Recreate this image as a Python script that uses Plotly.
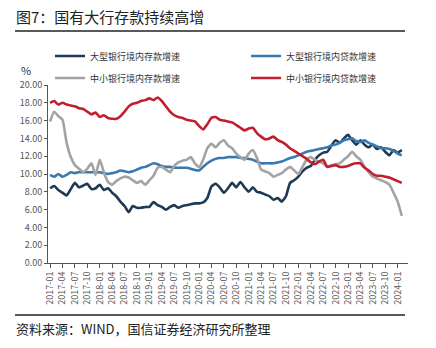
import plotly.graph_objects as go

# Monthly observations, 2017-01 .. 2024-02 (year-on-year growth, %)
months = [f"{y}-{m:02d}" for y in range(2017, 2025) for m in range(1, 13)][:86]

large_deposit = [8.4, 8.65, 8.2, 7.9, 7.6, 8.3, 9.0, 8.5, 8.7, 8.9, 8.3, 8.4,
                 8.8, 8.2, 8.4, 7.9, 7.5, 6.9, 6.4, 5.7, 6.4, 6.2, 6.2, 6.3,
                 6.3, 6.85, 6.5, 6.3, 6.0, 6.3, 6.5, 6.2, 6.4, 6.5, 6.6, 6.7,
                 6.7, 6.8, 7.3, 8.6, 8.9, 8.5, 7.9, 8.4, 9.0, 8.5, 9.1, 8.5,
                 8.0, 8.5, 8.0, 7.9, 7.7, 7.5, 7.1, 7.3, 6.9, 7.5, 9.0, 9.3,
                 9.7, 10.3, 10.7, 10.9, 11.6, 12.1, 12.4, 12.5, 13.2, 13.8, 13.5, 14.0,
                 14.4, 13.8, 13.3, 13.8, 13.3, 13.0, 13.3, 12.8, 13.0, 12.5, 12.1, 12.7,
                 12.4, 12.7]

large_loan = [9.9, 9.7, 10.0, 9.7, 9.9, 10.2, 10.1, 10.2, 10.2, 10.2, 10.2, 10.2,
              10.2, 10.1, 10.0, 10.1, 10.2, 10.4, 10.3, 10.2, 10.3, 10.5, 10.7, 10.8,
              11.0, 11.2, 11.1, 10.9, 10.8, 10.8, 10.7, 10.7, 10.7, 10.7, 10.6, 10.45,
              10.4, 10.8, 11.2, 11.5, 11.7, 11.8, 11.8, 11.9, 11.9, 11.9, 11.8, 11.8,
              11.7, 11.6, 11.4, 11.2, 11.2, 11.2, 11.2, 11.3, 11.4, 11.6, 11.8, 11.9,
              12.1, 12.3, 12.5, 12.6, 12.7, 12.8, 12.9, 13.0, 13.2, 13.3, 13.5, 13.8,
              13.9, 14.0, 13.7, 13.6, 13.8, 13.5, 13.3, 13.1, 12.9, 12.9, 12.8, 12.6,
              12.3, 12.1]

small_deposit = [15.9, 17.0, 16.5, 16.1, 13.5, 11.9, 11.0, 10.6, 10.2, 10.6, 11.2, 9.9,
                 11.6, 10.2, 9.1, 8.8, 9.2, 9.5, 9.7, 9.6, 9.3, 9.0, 9.2, 8.8,
                 9.3, 9.8, 10.7, 10.8, 10.5, 10.2, 10.9, 11.3, 11.5, 11.6, 11.9, 11.2,
                 10.8, 11.6, 12.9, 13.4, 13.0, 13.5, 13.8, 13.2, 12.9, 12.3, 11.9, 11.6,
                 12.3, 12.7, 11.8, 10.5, 10.3, 10.1, 9.7, 9.9, 10.1, 10.5, 10.8, 10.4,
                 10.0, 10.8, 11.6, 11.9, 11.6, 11.4, 11.2, 10.8, 11.0, 11.1, 11.2, 11.6,
                 12.0, 12.5, 12.0, 11.6, 10.8, 10.2, 9.7, 9.5, 9.3, 9.1, 8.8, 7.9,
                 6.9, 5.3]

small_loan = [18.0, 18.2, 17.8, 18.0, 17.8, 17.7, 17.6, 17.4, 17.3, 17.0, 16.7, 16.9,
              16.4, 16.6, 16.3, 16.2, 16.2, 16.5, 17.0, 17.6, 17.9, 18.0, 18.2, 18.3,
              18.5, 18.3, 18.6, 18.2, 17.6, 17.0, 16.6, 16.4, 16.3, 16.1, 16.0, 15.9,
              15.4, 15.0, 15.6, 16.3, 16.4, 16.1, 16.0, 15.9, 15.8, 15.5, 15.2, 14.9,
              15.1, 15.2, 14.6, 14.2, 13.9, 14.0, 14.2, 13.8, 13.6, 13.3, 12.9, 12.6,
              12.3, 12.0, 11.7, 11.3, 11.1, 11.4, 11.6, 10.8, 10.9, 11.0, 10.8, 10.8,
              10.9, 11.1, 11.2, 11.2, 10.7, 10.4, 10.0, 9.8, 9.8, 9.7, 9.6, 9.4,
              9.2, 9.0]

series_names = ["大型银行境内存款增速", "大型银行境内贷款增速",
                "中小银行境内存款增速", "中小银行境内贷款增速"]
series_values = [large_deposit, large_loan, small_deposit, small_loan]
series_colors = ["#1e3a55", "#3a78b0", "#a3a3a3", "#c01f2f"]

quarter_ticks = [m for m in months if m[-2:] in ("01", "04", "07", "10")]

# plot-area geometry in pixels (436 x 348 canvas)
L, R, T, B = 48, 408, 85, 263
W, H = 436, 348


def px(x):
    return (x - L) / (R - L)


def py(y):
    return (B - y) / (B - T)


cjk = "Noto Sans CJK SC"

# one legend box per entry, laid out as a 2 x 2 grid above the plot
legend_ids = ["legend", "legend2", "legend3", "legend4"]
legend_pos = [(50, 56), (246, 56), (50, 78), (246, 78)]

fig = go.Figure()
for name, vals, col, lid in zip(series_names, series_values, series_colors, legend_ids):
    fig.add_trace(go.Scatter(
        x=months, y=vals, name=name, mode="lines", legend=lid,
        line=dict(color=col, width=2.6, shape="spline", smoothing=0.5),
    ))

legend_layout = {}
for lid, (lx, ly) in zip(legend_ids, legend_pos):
    legend_layout[lid] = dict(
        x=px(lx), y=py(ly), xanchor="left", yanchor="middle",
        itemwidth=30, font=dict(family=cjk, size=9, color="#333"),
        bgcolor="rgba(0,0,0,0)",
    )

fig.update_layout(
    width=W, height=H,
    margin=dict(l=L, r=W - R, t=T, b=H - B),
    paper_bgcolor="white", plot_bgcolor="white",
    font=dict(family=cjk, color="#444", size=9),
    showlegend=True,
    **legend_layout,
    xaxis=dict(
        type="category", range=[-0.5, 86.5],
        tickmode="array", tickvals=quarter_ticks, ticktext=quarter_ticks,
        tickangle=-90, ticks="outside", ticklen=4, tickcolor="#555",
        showline=True, linecolor="#555", linewidth=1,
        showgrid=False, zeroline=False,
        tickfont=dict(family=cjk, size=9, color="#555"),
    ),
    yaxis=dict(
        range=[0, 20], dtick=2, tickformat=".2f",
        ticks="outside", ticklen=3, tickcolor="#555",
        showline=True, linecolor="#555", linewidth=1,
        showgrid=False, zeroline=False,
        tickfont=dict(family=cjk, size=9, color="#555"),
    ),
)

# title, unit label, source note
fig.add_annotation(text="图7：国有大行存款持续高增", xref="paper", yref="paper",
                   x=px(14), y=py(17), xanchor="left", yanchor="middle",
                   showarrow=False, font=dict(family=cjk, size=15, color="#222"))
fig.add_annotation(text="%", xref="paper", yref="paper",
                   x=px(26), y=py(70), xanchor="center", yanchor="middle",
                   showarrow=False, font=dict(family=cjk, size=11, color="#333"))
fig.add_annotation(text="资料来源：WIND，国信证券经济研究所整理", xref="paper", yref="paper",
                   x=px(14), y=py(328), xanchor="left", yanchor="middle",
                   showarrow=False, font=dict(family=cjk, size=13, color="#222"))

for yy in (31, 315):
    fig.add_shape(type="line", xref="paper", yref="paper",
                  x0=px(15), x1=px(405), y0=py(yy), y1=py(yy),
                  line=dict(color="#222", width=1.3))

fig.write_html("out.html")
